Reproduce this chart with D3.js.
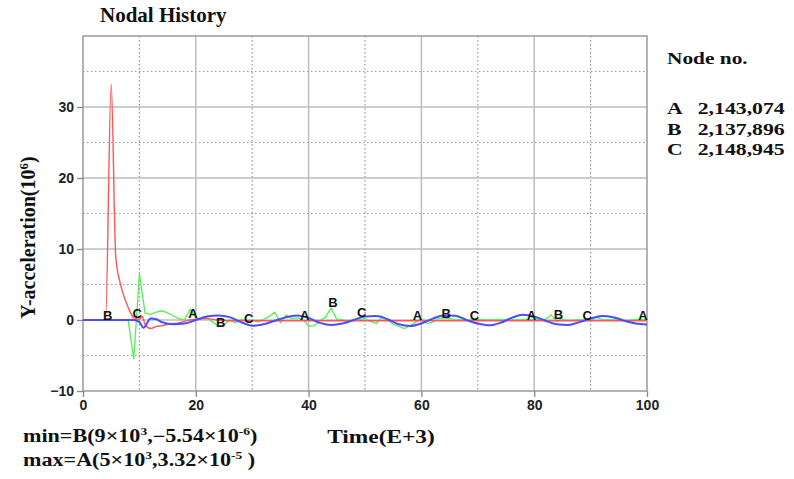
<!DOCTYPE html>
<html>
<head>
    <meta charset="utf-8">
    <script src="https://d3js.org/d3.v7.min.js"></script>
</head>

<style>
    body { margin: 0; background: #fff; }
    .serif { font-family: "Liberation Serif", "Times New Roman", serif; font-weight: bold; fill: #111; }
    .tick text { font-family: "Liberation Sans Narrow", "Arial Narrow", "Liberation Sans", sans-serif; font-weight: bold; font-size: 14px; fill: #222; }
    .curve { fill: none; }
    .tag { font-family: "Liberation Sans", Arial, sans-serif; font-weight: bold; font-size: 13px; fill: #111; }
</style>

<body>
<div id="chart"></div>

<script>

    // node A (red)
    var timeA  = [0, 4, 5, 5.8, 6.5, 7, 8, 9, 10, 10.5, 11, 12, 13, 14, 15, 16, 17, 18, 19, 20, 22, 24, 26, 30, 40, 50, 60, 70, 80, 90, 100];
    var valueA = [0, 0, 33.2, 9, 5.5, 4, 1.8, 0.3, 0.1, 0.5, -0.6, -1.2, -0.9, -0.8, -0.6, -0.5, -0.4, -0.2, 0, 0.1, 0.2, 0, -0.1, -0.1, -0.1, -0.1, -0.1, -0.1, -0.1, -0.1, -0.1];

    // node B (green)
    var timeB  = [0, 8, 9, 10, 11, 12, 13, 14, 15, 16, 17, 18, 19, 20, 21, 22, 23, 24, 25, 26, 27, 28, 29, 30,
                  31, 32, 33, 34, 35, 36, 37, 38, 39, 40, 41, 42, 43, 44, 45, 46, 47, 48, 49, 50,
                  51, 52, 53, 54, 55, 56, 57, 58, 59, 60, 61, 62, 63, 64, 65, 66, 68, 70, 72, 74, 76, 78, 80,
                  82, 83, 84, 85, 86, 88, 90, 91, 92, 94, 95, 96, 98, 100];
    var valueB = [0, 0, -5.5, 6.5, 1.0, 0.8, 1.1, 1.3, 1.0, 0.6, 0.2, 0.0, 1.5, 0.3, 0.2, 0.3, -0.3, -0.9, -0.7, 0, -0.4, 0.1, -0.1, 0,
                  -0.3, 0.1, 0.5, 1.1, -0.4, 0.7, 0.2, 0.3, 0.1, -0.9, -0.8, -0.1, 0.4, 1.7, 0.1, 0, -0.2, -0.1, 0.1, 0.2,
                  -0.2, -0.5, 0.4, 0, -0.6, -0.9, -1.2, -0.8, -0.3, 0.2, -0.5, -0.3, 0.2, 0.3, 0.2, 0.1, 0, 0.1, 0, 0.1, 0, 0.1, 0.1,
                  0.1, 0.7, -0.2, 0.1, -0.1, 0.1, -0.1, 0.4, 0.1, 0, 0.3, -0.1, 0.1, 0.1];

    // node C (blue)
    var timeC  = [0, 9, 10, 10.7, 12, 13, 14, 16, 18, 20, 22, 24, 26, 28, 30, 32, 34, 36, 38, 40, 42, 44, 46, 48, 50,
                  52, 54, 56, 58, 60, 62, 64, 66, 68, 70, 72, 74, 76, 78, 80, 82, 84, 86, 88, 90, 92, 94, 96, 98, 100];
    var valueC = [0, 0, -0.3, -1.1, 0.2, 0.1, -0.3, -0.6, -0.5, 0, 0.5, 0.65, 0.4, -0.3, -0.8, -0.6, -0.1, 0.4, 0.65, 0.3, -0.4, -0.7, -0.5, 0, 0.5,
                  0.55, 0.1, -0.6, -0.85, -0.5, 0.2, 0.65, 0.6, 0, -0.5, -0.75, -0.4, 0.3, 0.75, 0.5, -0.1, -0.6, -0.7, -0.3, 0.2, 0.55, 0.4, -0.1, -0.5, -0.65];

    // curve tags
    var tagText  = ['B', 'C', 'A', 'B', 'C', 'A', 'B', 'C', 'A', 'B', 'C', 'A', 'B', 'C', 'A'];
    var tagTime  = [4.4, 9.6, 19.5, 24.4, 29.4, 39.3, 44.3, 49.4, 59.3, 64.4, 69.4, 79.5, 84.3, 89.4, 99.3];
    var tagValue = [0.7, 0.9, 1.0, -0.3, 0.3, 0.7, 2.5, 1.1, 0.6, 1.0, 0.6, 0.7, 0.85, 0.7, 0.7];

    var nodeLetters = ['A', 'B', 'C'];
    var nodeNumbers = ['2,143,074', '2,137,896', '2,148,945'];

    var xTicks = [0, 20, 40, 60, 80, 100];
    var yTicks = [-10, 0, 10, 20, 30];

    var width = 794, height = 479;
    var plot = { left: 83, right: 647, top: 36, bottom: 391 };

    var x = d3.scaleLinear().domain([0, 100]).range([plot.left, plot.right]);
    var y = d3.scaleLinear().domain([-10, 40]).range([plot.bottom, plot.top]);

    var svg = d3.select('#chart').append('svg')
        .attr('width', width)
        .attr('height', height);

    // minor grid (dotted)
    var g = svg.append('g');
    g.selectAll('line.vminor')
        .data(d3.range(10, 100, 20))
        .enter().append('line')
        .attr('x1', x).attr('x2', x)
        .attr('y1', plot.top).attr('y2', plot.bottom)
        .attr('stroke', '#999').attr('stroke-width', 1.2).attr('stroke-dasharray', '1.5,2.5');
    g.selectAll('line.hminor')
        .data(d3.range(-5, 40, 10))
        .enter().append('line')
        .attr('y1', y).attr('y2', y)
        .attr('x1', plot.left).attr('x2', plot.right)
        .attr('stroke', '#999').attr('stroke-width', 1.2).attr('stroke-dasharray', '1.5,2.5');

    // major grid
    g.selectAll('line.vmajor')
        .data(xTicks.slice(1, -1))
        .enter().append('line')
        .attr('x1', x).attr('x2', x)
        .attr('y1', plot.top).attr('y2', plot.bottom)
        .attr('stroke', '#bdbdbd').attr('stroke-width', 1.5);
    g.selectAll('line.hmajor')
        .data(yTicks.slice(1))
        .enter().append('line')
        .attr('y1', y).attr('y2', y)
        .attr('x1', plot.left).attr('x2', plot.right)
        .attr('stroke', '#bdbdbd').attr('stroke-width', 1.5);

    // frame
    svg.append('rect')
        .attr('x', plot.left).attr('y', plot.top)
        .attr('width', plot.right - plot.left).attr('height', plot.bottom - plot.top)
        .attr('fill', 'none').attr('stroke', '#9a9a9a').attr('stroke-width', 1.5);

    // axes
    var xAxis = svg.append('g')
        .attr('transform', 'translate(0,' + plot.bottom + ')')
        .call(d3.axisBottom(x).tickValues(xTicks).tickSize(6).tickPadding(3));
    var yAxis = svg.append('g')
        .attr('transform', 'translate(' + plot.left + ',0)')
        .call(d3.axisLeft(y).tickValues(yTicks).tickSize(6).tickPadding(3));
    [xAxis, yAxis].forEach(function(a) {
        a.select('.domain').remove();
        a.selectAll('.tick line').attr('stroke', '#888').attr('stroke-width', 1.3);
    });

    // curves
    var pen = d3.line()
        .x(function(d) { return x(d[0]); })
        .y(function(d) { return y(d[1]); });
    var smoothPen = d3.line()
        .curve(d3.curveMonotoneX)
        .x(function(d) { return x(d[0]); })
        .y(function(d) { return y(d[1]); });

    svg.append('path').attr('class', 'curve')
        .datum(d3.zip(timeB, valueB))
        .attr('d', pen).attr('stroke', '#55ee55').attr('stroke-width', 1.3);
    svg.append('path').attr('class', 'curve')
        .datum(d3.zip(timeA, valueA))
        .attr('d', smoothPen).attr('stroke', '#ff5555').attr('stroke-width', 1.4);
    svg.append('path').attr('class', 'curve')
        .datum(d3.zip(timeC, valueC))
        .attr('d', smoothPen).attr('stroke', '#4c4cff').attr('stroke-width', 2);

    // tags on the curves
    svg.selectAll('text.tag')
        .data(d3.zip(tagText, tagTime, tagValue))
        .enter().append('text')
        .attr('class', 'tag')
        .attr('x', function(d) { return x(d[1]); })
        .attr('y', function(d) { return y(d[2]); })
        .attr('text-anchor', 'middle')
        .attr('dy', '0.36em')
        .text(function(d) { return d[0]; });

    // titles (the pasted-in texts are stretched sideways in the original)
    svg.append('text').attr('class', 'serif')
        .attr('x', 100).attr('y', 22).style('font-size', '21px')
        .text('Nodal History');

    svg.append('text').attr('class', 'serif')
        .attr('transform', 'translate(35,' + ((plot.top + plot.bottom) / 2 + 24) + ') rotate(-90)')
        .attr('text-anchor', 'middle').style('font-size', '20px')
        .html('Y-acceleration(10<tspan dy="-7" font-size="13px">6</tspan><tspan dy="7">)</tspan>');

    svg.append('text').attr('class', 'serif')
        .attr('transform', 'translate(381,443) scale(1.23,1)')
        .attr('text-anchor', 'middle').style('font-size', '19px')
        .text('Time(E+3)');

    svg.append('text').attr('class', 'serif')
        .attr('transform', 'translate(23,442) scale(1.23,1)').style('font-size', '18px')
        .html('min=B(9×10<tspan dy="-7" font-size="11px">3</tspan><tspan dy="7">,−5.54×10</tspan><tspan dy="-7" font-size="11px">-6</tspan><tspan dy="7">)</tspan>');
    svg.append('text').attr('class', 'serif')
        .attr('transform', 'translate(23,466) scale(1.23,1)').style('font-size', '18px')
        .html('max=A(5×10<tspan dy="-7" font-size="11px">3</tspan><tspan dy="7">,3.32×10</tspan><tspan dy="-7" font-size="11px">-5</tspan><tspan dy="7"> )</tspan>');

    // node legend
    svg.append('text').attr('class', 'serif')
        .attr('transform', 'translate(667,64) scale(1.22,1)').style('font-size', '17.5px')
        .text('Node no.');
    var legend = svg.selectAll('g.node')
        .data(d3.zip(nodeLetters, nodeNumbers))
        .enter().append('g')
        .attr('transform', function(d, i) { return 'translate(667,' + (114 + i * 20.5) + ') scale(1.28,1)'; });
    legend.append('text').attr('class', 'serif').style('font-size', '17px')
        .text(function(d) { return d[0]; });
    legend.append('text').attr('class', 'serif').style('font-size', '17px')
        .attr('x', 24)
        .text(function(d) { return d[1]; });

</script>
</body>
</html>
